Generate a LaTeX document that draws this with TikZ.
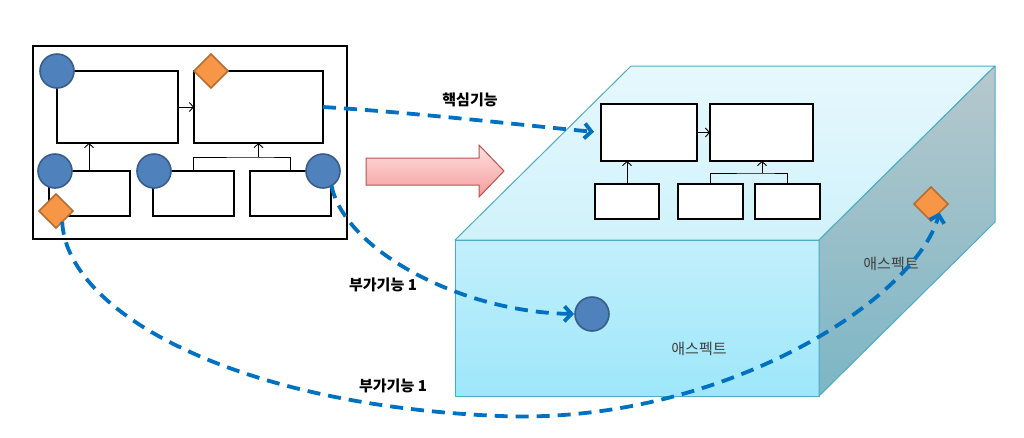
\documentclass[tikz,border=0pt]{standalone}
\usepackage{fontspec}
\newfontfamily\kr{Noto Sans CJK KR}
\usetikzlibrary{arrows.meta,shapes.geometric}
\definecolor{dblue}{HTML}{0070C0}
\definecolor{cfill}{HTML}{4F81BD}
\definecolor{cborder}{HTML}{385D8A}
\definecolor{dfill}{HTML}{F79646}
\definecolor{dborder}{HTML}{B66D31}
\definecolor{edge}{HTML}{4BACC6}
\definecolor{topback}{HTML}{E6F8FD}
\definecolor{topfront}{HTML}{D0F2FB}
\definecolor{fronttop}{HTML}{C3EFFC}
\definecolor{frontbot}{HTML}{9DE7FA}
\definecolor{sidetop}{HTML}{B6C8CD}
\definecolor{sidebot}{HTML}{7CB6C5}
\definecolor{pinktop}{HTML}{FFE0E0}
\definecolor{pinkbot}{HTML}{F59C9C}
\definecolor{pinkedge}{HTML}{C0504D}
\definecolor{txtgray}{HTML}{404040}
\begin{document}
\begin{tikzpicture}[x=1pt,y=-1pt,
  box/.style={draw=black, line width=2.4pt, fill=white, inner sep=0pt, outer sep=0pt},
  conn/.style={draw=black, line width=0.9pt, -{Straight Barb[length=4pt,width=9pt]}},
  joinline/.style={draw=black, line width=0.9pt},
  jp/.style={circle, draw=cborder, fill=cfill, line width=1.6pt, minimum size=34pt, inner sep=0pt, outer sep=0pt},
  adv/.style={diamond, draw=dborder, fill=dfill, line width=1.6pt, minimum size=34pt, inner sep=0pt, outer sep=0pt},
  dasharrow/.style={draw=dblue, line width=3.8pt, dash pattern=on 13pt off 8pt, -{Straight Barb[length=7pt,width=15pt]}},
  lbl/.style={font=\kr\bfseries\fontsize{15}{17}\selectfont, text=black, inner sep=0pt},
  facelbl/.style={font=\kr\fontsize{15}{17}\selectfont, text=txtgray, inner sep=0pt},
  faceedge/.style={draw=edge, line width=1pt, line join=round}
]
\useasboundingbox (0,0) rectangle (1024,437);

% ---------- left diagram ----------
\node[draw=black, line width=2.4pt, minimum width=314pt, minimum height=193pt, inner sep=0pt] (frame) at (190,142.5) {};
\node[box, minimum width=121pt, minimum height=72pt] (A) at (117.5,107) {};
\node[box, minimum width=129pt, minimum height=72pt] (B) at (258.5,107) {};
\node[box, minimum width=81pt, minimum height=45pt] (C) at (89.5,193.5) {};
\node[box, minimum width=81pt, minimum height=45pt] (D) at (193.5,193.5) {};
\node[box, minimum width=81pt, minimum height=45pt] (E) at (290.5,193.5) {};

\draw[conn] (A.east) -- (B.west);
\draw[conn] (C.north -| 89,0) -- (A.south -| 89,0);
\coordinate (jl) at (258.5,157);
\draw[joinline] (D.north) |- (jl) -| (E.north);
\draw[conn] (jl) -- (B.south);

\node[jp] (c1) at (57,71) {};
\node[jp] (c2) at (55,171) {};
\node[jp] (c3) at (154,171) {};
\node[jp] (c4) at (323,171) {};
\node[adv] (d1) at (211,71) {};
\node[adv] (d2) at (56,211) {};

% ---------- pink arrow ----------
\path[draw=pinkedge, line width=1pt, top color=pinktop, bottom color=pinkbot, line join=miter]
  (366,158) -- (479,158) -- (479,145) -- (504,171) -- (479,197) -- (479,185) -- (366,185) -- cycle;

% ---------- 3D block ----------
\path[faceedge, top color=topback, bottom color=topfront]
  (455,240) -- (631,66) -- (995,66) -- (819,240) -- cycle;
\path[faceedge, top color=fronttop, bottom color=frontbot]
  (455,240) rectangle (819,396);
\path[faceedge, top color=sidetop, bottom color=sidebot]
  (819,240) -- (995,66) -- (995,222) -- (819,396) -- cycle;

% ---------- diagram on top face ----------
\node[box, minimum width=96pt, minimum height=57pt] (R1) at (649,132.5) {};
\node[box, minimum width=103pt, minimum height=57pt] (R2) at (761.5,132.5) {};
\node[box, minimum width=64pt, minimum height=35pt] (R3) at (627,201.5) {};
\node[box, minimum width=65pt, minimum height=35pt] (R4) at (710.5,201.5) {};
\node[box, minimum width=65pt, minimum height=35pt] (R5) at (787.5,201.5) {};

\draw[conn] (R1.east) -- (R2.west);
\draw[conn] (R3.north) -- (R3.north |- R1.south);
\coordinate (jr) at (762,173);
\draw[joinline] (R4.north) |- (jr) -| (R5.north);
\draw[conn] (jr) -- (jr |- R2.south);

\node[jp] (F) at (592,314) {};
\node[adv] (d3) at (931,204) {};

% ---------- labels ----------
\node[lbl] (t1) at (470,100) {핵심기능};
\node[lbl] (t2) at (383,285) {부가기능 1};
\node[lbl] (t3) at (393,386) {부가기능 1};
\node[facelbl] (t4) at (699,349) {애스펙트};
\node[facelbl] (t5) at (891,264) {애스펙트};

% ---------- dashed connectors ----------
\draw[dasharrow, shorten >=7pt] (B.east) .. controls (420,113) and (520,125) .. (R1.west);
\draw[dasharrow, shorten >=1pt] (c4.-60) .. controls (345,250) and (460,312) .. (F.west);
\coordinate (low) at (500,416);
\draw[dasharrow] (d2.-60) .. controls (66,310) and (230,405) .. (low)
  .. controls (720,425) and (915,300) .. (d3.south east);
\end{tikzpicture}
\end{document}
